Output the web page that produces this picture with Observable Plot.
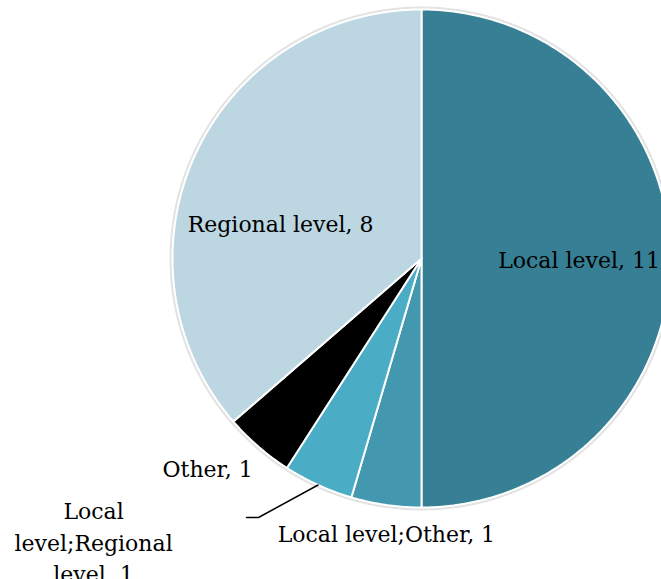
<!DOCTYPE html>
<html>
<head>
<meta charset="utf-8">
<script src="https://cdn.jsdelivr.net/npm/d3@7"></script>
<script src="https://cdn.jsdelivr.net/npm/@observablehq/plot@0.6"></script>
<style>
  html, body { margin: 0; padding: 0; background: #fff; }
  #chart { width: 661px; height: 579px; overflow: hidden; }
</style>
</head>
<body>
<div id="chart"></div>
<script>
// Data (clockwise from 12 o'clock)
const categories = ["Local level", "Local level;Other", "Local level;Regional level", "Other", "Regional level"];
const values = [11, 1, 1, 1, 8];
const labels = ["Local level, 11", "Local level;Other, 1", "Local\nlevel;Regional\nlevel, 1", "Other, 1", "Regional level, 8"];
const colors = ["#367f94", "#4397ae", "#4bacc6", "#000000", "#bcd6e2"];

// Layout (unit circle coordinates)
const W = 661, H = 579, CX = 421, CY = 258, R = 249;
const labelPos = [[0.633, -0.004], [-0.141, 1.096], [-1.317, 1.132], [-0.859, 0.837], [-0.566, -0.149]];

const pie = d3.pie().sort(null).value(d => d)(values);

const slicePts = [];
pie.forEach((p, i) => {
  const n = Math.max(4, Math.ceil((p.endAngle - p.startAngle) / 0.01));
  slicePts.push({cat: categories[i], x: 0, y: 0});
  for (let k = 0; k <= n; k++) {
    const a = p.startAngle + (p.endAngle - p.startAngle) * k / n;
    slicePts.push({cat: categories[i], x: Math.sin(a), y: -Math.cos(a)});
  }
  slicePts.push({cat: categories[i], x: 0, y: 0});
});

const ring = d3.range(0, 361).map(d => {
  const a = d * Math.PI / 180;
  return {x: 1.006 * Math.sin(a), y: -1.006 * Math.cos(a)};
});

const labelData = categories.map((c, i) => ({cat: c, text: labels[i], x: labelPos[i][0], y: labelPos[i][1]}));

// leader line for the small "Local level;Regional level" slice
const lr = pie[2];
const mid = (lr.startAngle + lr.endAngle) / 2;
const leader = [
  {x: Math.sin(mid), y: -Math.cos(mid)},
  {x: (258 - CX) / R, y: (517 - CY) / R},
  {x: (246 - CX) / R, y: (517 - CY) / R}
];

const chart = Plot.plot({
  width: W,
  height: H,
  margin: 0,
  style: {background: "#fff", fontFamily: "'DejaVu Serif', serif"},
  x: {domain: [-CX / R, (W - CX) / R], range: [0, W], axis: null},
  y: {domain: [-CY / R, (H - CY) / R], range: [0, H], axis: null},
  color: {domain: categories, range: colors},
  marks: [
    Plot.line(ring, {x: "x", y: "y", stroke: "#e3e3e3", strokeWidth: 3, curve: "linear"}),
    Plot.line(slicePts, {x: "x", y: "y", z: "cat", fill: "cat", stroke: "#fff", strokeWidth: 2, strokeLinejoin: "round", curve: "linear"}),
    Plot.line(leader, {x: "x", y: "y", stroke: "#000", strokeWidth: 1.5, curve: "linear"}),
    Plot.text(labelData, {x: "x", y: "y", text: "text", fill: "#000", fontSize: 22, lineHeight: 1.45, textAnchor: "middle"})
  ]
});
document.getElementById("chart").appendChild(chart);
</script>
</body>
</html>
